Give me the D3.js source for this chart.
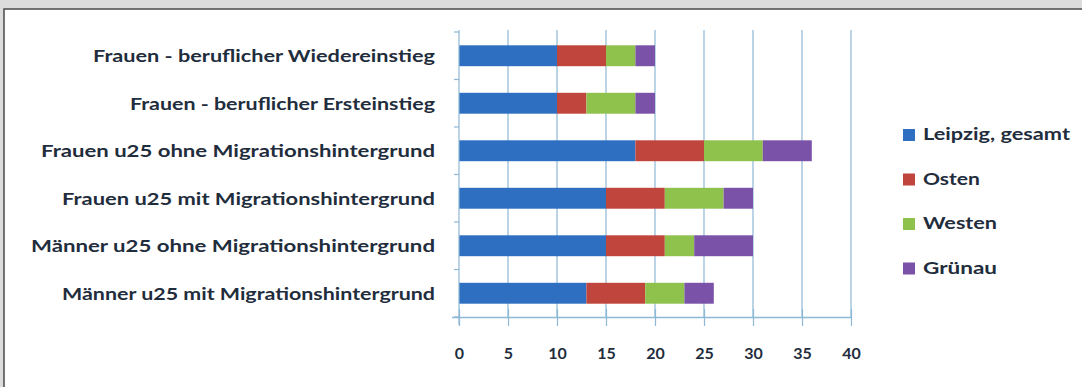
<!DOCTYPE html>
<html>
<head>
<meta charset="utf-8">
<script src="https://cdn.jsdelivr.net/npm/d3@7"></script>
<style>
  html, body { margin: 0; padding: 0; background: #dcdcdc; }
  svg { display: block; }
</style>
</head>
<body>
<svg id="chart" width="1082" height="387"></svg>
<script>
const categories = [
  "Frauen - beruflicher Wiedereinstieg",
  "Frauen - beruflicher Ersteinstieg",
  "Frauen u25 ohne Migrationshintergrund",
  "Frauen u25 mit Migrationshintergrund",
  "Männer u25 ohne Migrationshintergrund",
  "Männer u25 mit Migrationshintergrund"
];
const seriesNames = ["Leipzig, gesamt", "Osten", "Westen", "Grünau"];
const leipzigGesamt = [10, 10, 18, 15, 15, 13];
const osten        = [5, 3, 7, 6, 6, 6];
const westen       = [3, 5, 6, 6, 3, 4];
const gruenau      = [2, 2, 5, 3, 6, 3];
const xTicks = [0, 5, 10, 15, 20, 25, 30, 35, 40];
const colors = ["#2f6fc2", "#c0453d", "#8fc24c", "#7a52a8"];

// widths of category labels as measured in the reference
const labelWidths = [342, 305, 394, 373, 404, 373];
const legendWidths = [147, 57, 74, 74];

const svg = d3.select("#chart");

// panel frame
svg.append("rect").attr("x", 4).attr("y", 9).attr("width", 1090).attr("height", 400)
  .attr("fill", "#ffffff").attr("stroke", "#4a4a4a").attr("stroke-width", 1.5);

const x = d3.scaleLinear().domain([0, 40]).range([459, 851]);
const y = d3.scaleBand().domain(categories).range([32, 317]).paddingInner(0.56).paddingOuter(0.28);

const gridColor = "#8db8d6";

// gridlines
svg.append("g").selectAll("line").data(xTicks.slice(1)).join("line")
  .attr("x1", d => x(d)).attr("x2", d => x(d))
  .attr("y1", 30).attr("y2", 317)
  .attr("stroke", gridColor).attr("stroke-width", 1.2);

// stacked data
const table = categories.map((c, i) => ({
  cat: c,
  [seriesNames[0]]: leipzigGesamt[i],
  [seriesNames[1]]: osten[i],
  [seriesNames[2]]: westen[i],
  [seriesNames[3]]: gruenau[i]
}));
const stacked = d3.stack().keys(seriesNames)(table);

svg.append("g").selectAll("g").data(stacked).join("g")
  .attr("fill", (d, i) => colors[i])
  .selectAll("rect").data(d => d).join("rect")
  .attr("x", d => x(d[0]))
  .attr("width", d => x(d[1]) - x(d[0]))
  .attr("y", d => y(d.data.cat))
  .attr("height", y.bandwidth());

// x axis
const xAxis = d3.axisBottom(x).tickValues(xTicks).tickSizeInner(9).tickSizeOuter(0).tickPadding(22);
const gx = svg.append("g").attr("transform", "translate(0,317)").call(xAxis);
gx.select(".domain").attr("stroke", gridColor).attr("stroke-width", 1.5)
  .attr("d", `M${x(0) - 7},0.5H${x(40)}`);
gx.selectAll(".tick line").attr("stroke", gridColor).attr("stroke-width", 1.2).attr("y1", -8);
gx.selectAll(".tick text")
  .attr("fill", "#1f2d3d")
  .style("font-family", "Lato, 'Open Sans', sans-serif")
  .style("font-weight", "700")
  .style("font-size", "16px");

// left axis line with band ticks
svg.append("line").attr("x1", x(0)).attr("x2", x(0)).attr("y1", 30).attr("y2", 325)
  .attr("stroke", gridColor).attr("stroke-width", 1.2);
const bandEdges = categories.map(c => y(c) - y.step() * y.paddingInner() / 2).concat([317]);
svg.append("g").selectAll("line").data(bandEdges).join("line")
  .attr("x1", x(0) - 5).attr("x2", x(0))
  .attr("y1", d => d).attr("y2", d => d)
  .attr("stroke", gridColor).attr("stroke-width", 1.2);

// category labels
svg.append("g").selectAll("text").data(categories).join("text")
  .attr("x", 435)
  .attr("y", d => y(d) + y.bandwidth() / 2 + 2)
  .attr("text-anchor", "end")
  .attr("dominant-baseline", "middle")
  .attr("textLength", (d, i) => labelWidths[i])
  .attr("lengthAdjust", "spacingAndGlyphs")
  .attr("fill", "#1f2d3d")
  .style("font-family", "Lato, 'Open Sans', sans-serif")
  .style("font-weight", "700")
  .style("font-size", "17px")
  .text(d => d);

// legend
const legend = svg.append("g").selectAll("g").data(seriesNames).join("g")
  .attr("transform", (d, i) => `translate(903, ${135 + i * 44.5})`);
legend.append("rect").attr("x", 0).attr("y", -6).attr("width", 12).attr("height", 12)
  .attr("fill", (d, i) => colors[i]);
legend.append("text").attr("x", 20).attr("y", 1)
  .attr("dominant-baseline", "middle")
  .attr("textLength", (d, i) => legendWidths[i])
  .attr("lengthAdjust", "spacingAndGlyphs")
  .attr("fill", "#1f2d3d")
  .style("font-family", "Lato, 'Open Sans', sans-serif")
  .style("font-weight", "700")
  .style("font-size", "17px")
  .text(d => d);
</script>
</body>
</html>
